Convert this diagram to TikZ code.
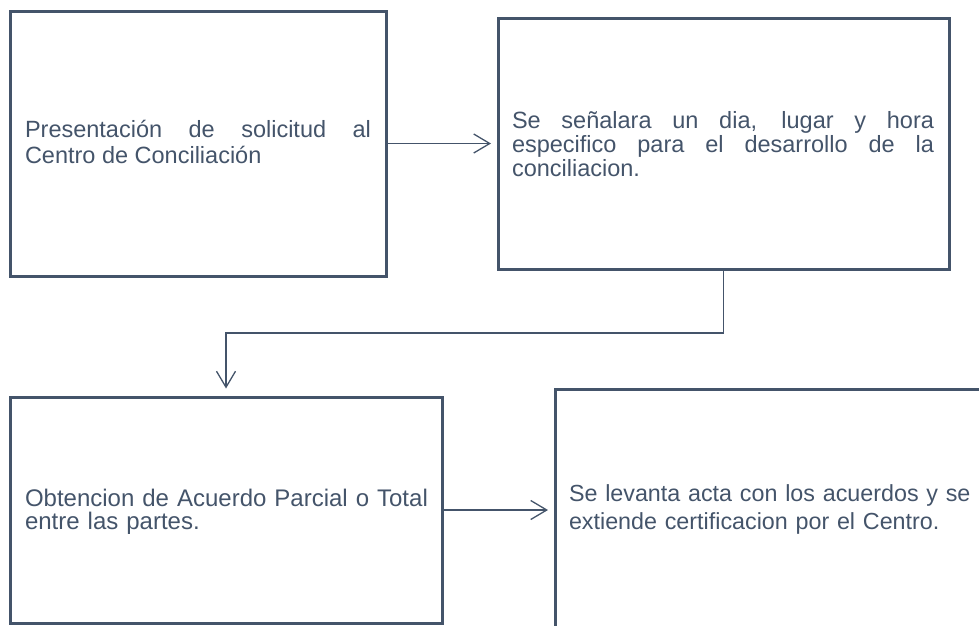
\documentclass[tikz,border=0pt]{standalone}
\usepackage{fontspec}
\setmainfont{Liberation Sans}
\usetikzlibrary{arrows.meta}
\definecolor{ink}{HTML}{44546A}
\tolerance=10000
\hyphenpenalty=10000
\exhyphenpenalty=10000
\begin{document}
\begin{tikzpicture}[x=1pt,y=-1pt,
  box/.style={draw=ink,line width=3pt,inner sep=0pt,outer sep=0pt,rectangle,anchor=north west},
  txt/.style={inner sep=0pt,outer sep=0pt,text=ink,anchor=base west},
  arr/.style={draw=ink,line width=1.3pt,-{Straight Barb[length=16pt,width=19pt]}}]
\useasboundingbox (0,0) rectangle (979,625);
\clip (0,0) rectangle (979,625);
% boxes
\node[box,minimum width=376pt,minimum height=265pt] (a) at (10,11) {};
\node[box,minimum width=451pt,minimum height=251pt] (b) at (498,18) {};
\node[box,minimum width=432pt,minimum height=226pt] (c) at (10,397) {};
\node[box,minimum width=450pt,minimum height=242pt] (d) at (555,389) {};
% texts
\node[txt,text width=346pt,align=justify,font={\fontsize{23.5}{25.7}\selectfont}] (ta) at (25,137.7)
  {Presentación de solicitud al\linebreak Centro de Conciliación};
\node[txt,text width=422pt,align=justify,font={\fontsize{23.5}{24.2}\selectfont}] (tb) at (512,128.3)
  {Se señalara un dia, lugar y hora\linebreak especifico para el desarrollo de la\linebreak conciliacion.};
\node[txt,text width=420pt,align=left,font={\fontsize{24}{23}\selectfont}] (tc) at (25,506.7)
  {Obtencion de Acuerdo Parcial o Total\\entre las partes.};
\node[txt,text width=405pt,align=left,font={\fontsize{23.3}{27.6}\selectfont}] (td) at (569,501.7)
  {Se levanta acta con los acuerdos y se\\extiende certificacion por el Centro.};
% connectors
\coordinate (mid) at (0,333);
\draw[arr,shorten >=7pt] (a.east) -- (b.west);
\draw[arr,shorten >=8.5pt] (b.south) -- (b.south |- mid) -| (c.north);
\draw[arr,shorten >=7pt] (c.east) -- (d.west);
\end{tikzpicture}
\end{document}
